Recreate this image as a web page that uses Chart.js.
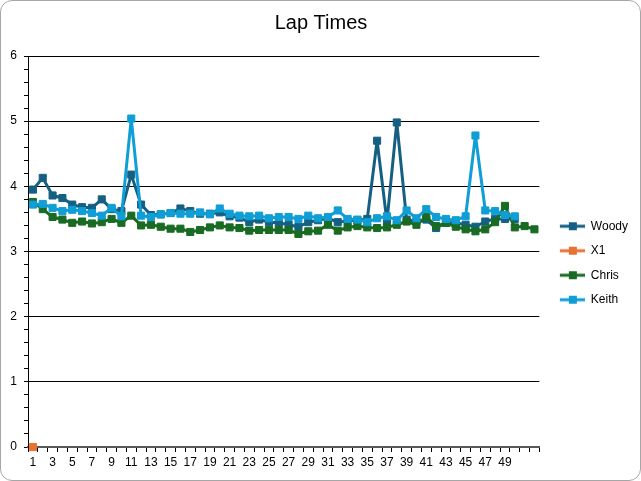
<!DOCTYPE html>
<html>
<head>
<meta charset="utf-8">
<script src="https://cdn.jsdelivr.net/npm/chart.js@4.4.1/dist/chart.umd.min.js"></script>
<style>
html,body{margin:0;padding:0;background:#fff;}
#wrap{position:relative;width:641px;height:481px;box-sizing:border-box;border:1px solid #a6a6a6;border-radius:12px;overflow:hidden;}
#chart{position:absolute;left:-1px;top:-1px;}
</style>
</head>
<body>
<div id="wrap"><canvas id="chart" width="641" height="481"></canvas></div>
<script>

/* ===== data ===== */

let laps = ["1","2","3","4","5","6","7","8","9","10","11","12","13","14","15","16","17","18","19","20",
"21","22","23","24","25","26","27","28","29","30","31","32","33","34","35","36","37","38","39","40",
"41","42","43","44","45","46","47","48","49","50","51","52"];

let woody = [3.95,4.13,3.86,3.82,3.72,3.68,3.67,3.80,3.65,3.62,4.18,3.72,3.56,3.57,3.59,3.66,3.62,3.58,3.58,3.60,
3.54,3.52,3.45,3.49,3.45,3.44,3.41,3.38,3.45,3.48,3.51,3.45,3.47,3.48,3.50,4.70,3.46,4.98,3.49,3.46,
3.49,3.36,3.44,3.44,3.41,3.38,3.46,3.50,3.50,3.50];

let x1 = [0];

let chris = [3.76,3.65,3.53,3.49,3.44,3.46,3.43,3.45,3.50,3.44,3.55,3.40,3.41,3.38,3.35,3.35,3.30,3.33,3.37,3.40,
3.37,3.36,3.32,3.33,3.33,3.33,3.33,3.27,3.31,3.32,3.41,3.32,3.37,3.39,3.37,3.36,3.37,3.41,3.46,3.41,
3.53,3.39,3.44,3.38,3.34,3.31,3.34,3.45,3.70,3.37,3.39,3.34];

let keith = [3.72,3.73,3.67,3.62,3.64,3.62,3.59,3.55,3.67,3.54,5.04,3.55,3.53,3.57,3.59,3.58,3.58,3.60,3.57,3.66,
3.58,3.55,3.54,3.55,3.51,3.53,3.53,3.50,3.55,3.51,3.53,3.63,3.50,3.49,3.45,3.51,3.54,3.48,3.63,3.51,
3.65,3.53,3.50,3.48,3.54,4.78,3.63,3.62,3.56,3.54];

let names = ["Woody","X1","Chris","Keith"];
let colors = ["#156082","#E97132","#196B24","#0F9ED5"];

/* ===== legend icons (line + square marker) ===== */

function legendIcon(color){
let c = document.createElement("canvas");
c.width = 33;
c.height = 10;
let g = c.getContext("2d");
g.strokeStyle = color;
g.lineWidth = 3;
g.beginPath();
g.moveTo(8,5);
g.lineTo(33,5);
g.stroke();
g.fillStyle = color;
g.fillRect(17,1,8,8);
return c;
}

let icons = colors.map(legendIcon);

function series(i,data,order){
return {
label:names[i],
data:data,
borderColor:colors[i],
backgroundColor:colors[i],
borderWidth:3,
borderJoinStyle:"round",
pointStyle:"rect",
pointRadius:5,
pointBorderWidth:1,
tension:0,
clip:false,
order:order
};
}

let font = "'Liberation Sans', Arial, sans-serif";

new Chart(document.getElementById("chart"),{

type:"line",

data:{
labels:laps,
datasets:[
series(0,woody,3),
series(1,x1,2),
series(2,chris,1),
series(3,keith,0)
]
},

options:{
responsive:false,
animation:false,
layout:{padding:{left:4,right:3,top:0,bottom:0}},
plugins:{
tooltip:{enabled:false},
title:{
display:true,
text:"Lap Times",
color:"#000",
font:{family:font,size:20,weight:"normal"},
padding:{top:11,bottom:21}
},
legend:{
position:"right",
align:"center",
title:{display:true,text:" ",font:{family:font,size:12},padding:{top:30.6,bottom:0}},
labels:{
usePointStyle:true,
pointStyleWidth:33,
color:"#000",
font:{family:font,size:12},
padding:12.5,
sort:(a,b)=>a.datasetIndex-b.datasetIndex,
generateLabels:function(chart){
let items = Chart.defaults.plugins.legend.labels.generateLabels(chart);
items.forEach(it=>{ it.pointStyle = icons[it.datasetIndex]; });
return items;
}
}
}
},
scales:{
x:{
type:"category",
offset:true,
afterFit:function(s){ s.height = 34; },
grid:{offset:true,drawOnChartArea:false,tickLength:5,tickColor:"#000",tickWidth:1},
border:{color:"#595959",width:2},
ticks:{
autoSkip:false,
maxRotation:0,
padding:3,
color:"#000",
font:{family:font,size:12},
callback:function(v,i){ return (i % 2 === 0 && i <= 48) ? laps[i] : ""; }
}
},
y:{
min:0,
max:6,
afterFit:function(s){ s.width = 24; },
grid:{
tickLength:4,
tickColor:"#000",
color:function(c){ let v = c.tick.value; return Math.abs(v-Math.round(v)) < 1e-6 ? "#000" : "rgba(0,0,0,0)"; }
},
border:{color:"#000",width:1},
ticks:{
stepSize:0.2,
autoSkip:false,
padding:7,
color:"#000",
font:{family:font,size:12},
callback:function(v){ return Math.abs(v-Math.round(v)) < 1e-6 ? Math.round(v) : ""; }
}
}
}
}

});

</script>
</body>
</html>
